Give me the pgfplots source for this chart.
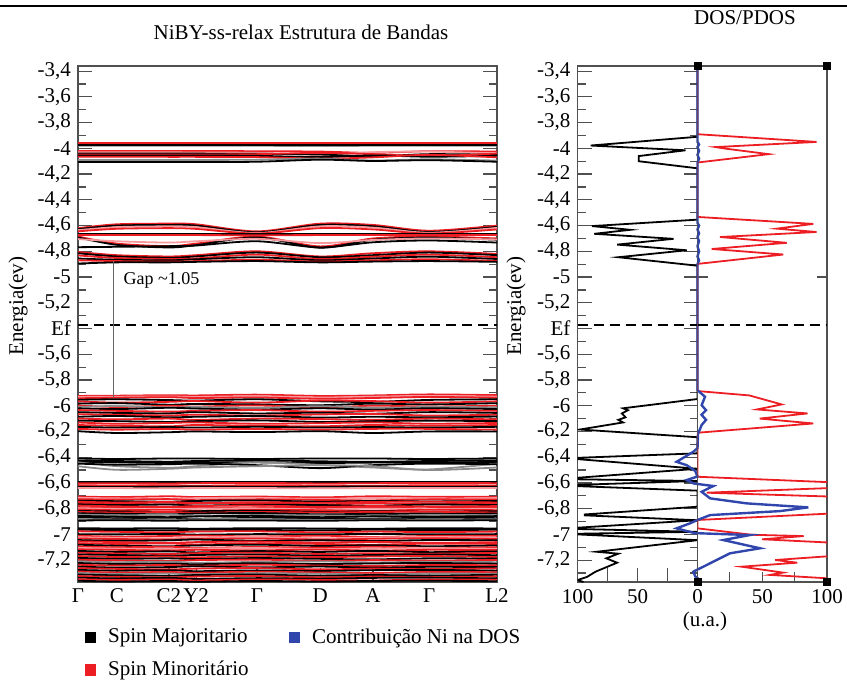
\documentclass[border=0pt]{standalone}
\usepackage{fontspec}
\setmainfont{Liberation Serif}
\usepackage{pgfplots}
\pgfplotsset{compat=1.18}
\definecolor{dred}{RGB}{236,30,36}
\definecolor{dblue}{RGB}{48,70,172}
\definecolor{frm}{RGB}{80,80,80}
\pgfplotsset{
  bandsty/.style={smooth, tension=0.5, line width=0.9pt},
  panel/.style={
    scale only axis, anchor=south west, height=258pt, ymin=-7.37, ymax=-3.36,
    axis line style={frm, line width=0.7pt},
    every tick/.style={frm, line width=0.6pt},
    major tick length=7pt, minor tick length=4pt,
    tick label style={font=\fontsize{10.5}{12}\selectfont},
  },
  ylist/.style={
    ytick={-7.2,-7,-6.8,-6.6,-6.4,-6.2,-6,-5.8,-5.6,-5.4,-5.2,-5,-4.8,-4.6,-4.4,-4.2,-4,-3.8,-3.6,-3.4},
    yticklabels={{-7,2},{-7},{-6,8},{-6,6},{-6,4},{-6,2},{-6},{-5,8},{-5,6},{Ef},{-5,2},{-5},{-4,8},{-4,6},{-4,4},{-4,2},{-4},{-3,8},{-3,6},{-3,4}},
    minor ytick={-7.3,-7.1,-6.9,-6.7,-6.5,-6.3,-6.1,-5.9,-5.7,-5.5,-5.3,-5.1,-4.9,-4.7,-4.5,-4.3,-4.1,-3.9,-3.7,-3.5},
  },
}
\newcommand\BK[9]{\addplot[bandsty, black] coordinates {(0,#1)(0.093,#2)(0.217,#3)(0.282,#4)(0.427,#5)(0.578,#6)(0.704,#7)(0.838,#8)(1,#9)};}
\newcommand\BR[9]{\addplot[bandsty, dred] coordinates {(0,#1)(0.093,#2)(0.217,#3)(0.282,#4)(0.427,#5)(0.578,#6)(0.704,#7)(0.838,#8)(1,#9)};}
\newcommand\BG[9]{\addplot[bandsty, black!45] coordinates {(0,#1)(0.093,#2)(0.217,#3)(0.282,#4)(0.427,#5)(0.578,#6)(0.704,#7)(0.838,#8)(1,#9)};}
\newcommand\BP[9]{\addplot[bandsty, dred!45] coordinates {(0,#1)(0.093,#2)(0.217,#3)(0.282,#4)(0.427,#5)(0.578,#6)(0.704,#7)(0.838,#8)(1,#9)};}

\pgfplotstableread{
x y
0 -3.36
0 -3.95
1.2 -3.97
0 -3.99
1.2 -4.02
0 -4.05
1.2 -4.08
0 -4.11
0 -4.58
1.2 -4.60
0 -4.63
1.2 -4.66
0 -4.69
1.2 -4.72
0 -4.76
1.2 -4.80
0 -4.84
1.2 -4.87
0 -4.90
0 -5.88
5.8 -5.93
3.2 -5.996
6.6 -6.035
3.1 -6.07
6.6 -6.11
3.2 -6.15
0.4 -6.22
0 -6.33
-3.5 -6.358
-17.4 -6.436
-9 -6.462
-2 -6.506
0 -6.55
-9 -6.578
-3.3 -6.604
12.2 -6.624
3.2 -6.669
9.7 -6.72
38 -6.759
85.6 -6.79
63.7 -6.819
9.7 -6.85
0 -6.888
-6.25 -6.914
-17.4 -6.953
-2.5 -6.99
17.4 -6.997
40.5 -7.005
19.9 -7.044
48.3 -7.108
25.1 -7.147
12.2 -7.212
4.5 -7.251
-3.5 -7.29
-1.7 -7.329
2.3 -7.355
3 -7.37
}\bluedos

\pgfplotstableread{
x y
0 -3.36
0 -3.91
-89 -3.978
-10 -4.015
-49 -4.06
-49 -4.10
0 -4.155
0 -4.554
-88 -4.604
-56 -4.633
-86 -4.664
-20 -4.703
-67 -4.748
-9 -4.792
-66 -4.846
0 -4.912
0 -5.948
-62 -6.02
-58 -6.035
-63 -6.06
-60 -6.09
-66 -6.11
-62 -6.13
-98 -6.185
0 -6.245
0 -6.37
-100 -6.405
-100 -6.415
0 -6.49
-100 -6.56
-100 -6.572
0 -6.585
-100 -6.615
-100 -6.625
0 -6.66
0 -6.785
-94 -6.845
-94 -6.852
0 -6.89
-100 -6.948
-100 -6.958
0 -6.98
-100 -6.995
-100 -7.0
0 -7.045
-84 -7.135
-66 -7.15
-76 -7.186
-67 -7.22
-85 -7.29
-92 -7.33
-100 -7.355
-95 -7.37
}\blackdos

\pgfplotstableread{
x y
0 -3.36
0 -3.89
92 -3.95
14 -3.99
20 -4.0
55 -4.045
0 -4.11
0 -4.533
89.4 -4.587
61.2 -4.624
92 -4.65
17.4 -4.689
68.9 -4.734
11 -4.782
66.3 -4.825
0 -4.898
0 -5.886
40 -5.92
65 -5.99
46 -6.029
85 -6.06
48 -6.10
89.4 -6.138
0 -6.21
0 -6.552
115 -6.60
115 -6.635
7 -6.676
115 -6.71
115 -6.832
0 -6.888
0 -6.953
42 -7.003
82 -7.013
50 -7.038
115 -7.07
115 -7.16
60 -7.199
77 -7.22
34 -7.251
66 -7.297
56 -7.315
115 -7.35
}\reddos

\begin{document}
\begin{tikzpicture}
\useasboundingbox (0,0) rectangle (423.5pt,-340pt);
\draw[line width=1pt] (0,-3pt) -- (423.5pt,-3pt);

% ---------------- band structure ----------------
\begin{axis}[panel, ylist, at={(39pt,-291pt)}, width=209.5pt, xmin=0, xmax=1,
  xtick={0,0.093,0.217,0.282,0.427,0.578,0.704,0.838,1},
  xticklabels={Γ,C,C2,Y2,Γ,D,A,Γ,L2},
  xtick pos=bottom,
  legend style={at={(0.015,-0.082)}, anchor=north west, draw=none, fill=none, inner sep=0pt,
    font=\fontsize{10.5}{12}\selectfont, legend cell align=left,
    /tikz/every even column/.append style={column sep=18pt}, row sep=3.5pt},
  legend columns=2,
  legend image code/.code={\fill[#1] (0pt,-2.6pt) rectangle (5.2pt,2.6pt); \path[draw=none, fill=none] (0pt,0pt) -- (9.5pt,0pt);},
]
\addlegendimage{black}\addlegendentry{Spin Majoritario}
\addlegendimage{dblue}\addlegendentry{Contribuição Ni na DOS}
\addlegendimage{dred}\addlegendentry{Spin Minoritário}
% cluster A
\BR{-3.958}{-3.958}{-3.958}{-3.958}{-3.958}{-3.958}{-3.958}{-3.958}{-3.958}
\BG{-3.980}{-3.980}{-3.980}{-3.980}{-3.980}{-3.982}{-3.980}{-3.980}{-3.980}
\BK{-3.975}{-3.975}{-3.975}{-3.975}{-3.975}{-3.975}{-3.975}{-3.975}{-3.975}
\BR{-4.020}{-4.020}{-4.020}{-4.021}{-4.022}{-4.025}{-4.035}{-4.022}{-4.025}
\BP{-4.030}{-4.030}{-4.031}{-4.032}{-4.035}{-4.050}{-4.030}{-4.025}{-4.040}
\BK{-4.040}{-4.040}{-4.040}{-4.041}{-4.042}{-4.048}{-4.062}{-4.045}{-4.050}
\BR{-4.048}{-4.048}{-4.048}{-4.048}{-4.045}{-4.035}{-4.045}{-4.060}{-4.040}
\BK{-4.055}{-4.055}{-4.055}{-4.055}{-4.058}{-4.068}{-4.055}{-4.065}{-4.058}
\BR{-4.065}{-4.065}{-4.066}{-4.066}{-4.068}{-4.080}{-4.070}{-4.050}{-4.070}
\BG{-4.090}{-4.090}{-4.090}{-4.090}{-4.088}{-4.080}{-4.095}{-4.085}{-4.095}
\BK{-4.106}{-4.106}{-4.106}{-4.106}{-4.104}{-4.088}{-4.098}{-4.092}{-4.104}
% cluster B
\BR{-4.620}{-4.590}{-4.585}{-4.590}{-4.645}{-4.585}{-4.595}{-4.640}{-4.600}
\BK{-4.628}{-4.600}{-4.595}{-4.600}{-4.652}{-4.595}{-4.605}{-4.650}{-4.610}
\BP{-4.636}{-4.612}{-4.606}{-4.612}{-4.658}{-4.606}{-4.616}{-4.656}{-4.618}
\BR{-4.645}{-4.625}{-4.620}{-4.626}{-4.662}{-4.620}{-4.630}{-4.662}{-4.630}
\BK{-4.666}{-4.666}{-4.666}{-4.666}{-4.666}{-4.666}{-4.666}{-4.666}{-4.666}
\BR{-4.674}{-4.674}{-4.674}{-4.674}{-4.675}{-4.674}{-4.674}{-4.674}{-4.674}
\BR{-4.685}{-4.740}{-4.760}{-4.740}{-4.685}{-4.762}{-4.700}{-4.685}{-4.700}
\BK{-4.692}{-4.750}{-4.770}{-4.752}{-4.692}{-4.772}{-4.710}{-4.693}{-4.710}
\BP{-4.705}{-4.722}{-4.732}{-4.722}{-4.703}{-4.736}{-4.712}{-4.700}{-4.708}
\BK{-4.768}{-4.765}{-4.760}{-4.755}{-4.722}{-4.770}{-4.730}{-4.716}{-4.732}
\BR{-4.805}{-4.830}{-4.840}{-4.830}{-4.800}{-4.840}{-4.815}{-4.800}{-4.820}
\BK{-4.815}{-4.840}{-4.850}{-4.840}{-4.810}{-4.846}{-4.830}{-4.810}{-4.830}
\BR{-4.832}{-4.852}{-4.860}{-4.855}{-4.826}{-4.860}{-4.842}{-4.826}{-4.846}
\BK{-4.856}{-4.866}{-4.870}{-4.862}{-4.846}{-4.870}{-4.856}{-4.842}{-4.860}
\BR{-4.870}{-4.876}{-4.880}{-4.876}{-4.866}{-4.880}{-4.870}{-4.862}{-4.875}
\BK{-4.895}{-4.886}{-4.886}{-4.882}{-4.876}{-4.886}{-4.880}{-4.876}{-4.882}
% cluster C
\BR{-5.924}{-5.922}{-5.918}{-5.920}{-5.914}{-5.924}{-5.920}{-5.912}{-5.918}
\BP{-5.932}{-5.930}{-5.928}{-5.932}{-5.926}{-5.936}{-5.930}{-5.924}{-5.930}
\BR{-5.942}{-5.938}{-5.934}{-5.940}{-5.936}{-5.946}{-5.940}{-5.932}{-5.938}
\BK{-5.954}{-5.950}{-5.956}{-5.960}{-5.950}{-5.966}{-5.970}{-5.955}{-5.950}
\BR{-5.966}{-5.976}{-5.970}{-5.964}{-5.976}{-5.960}{-5.964}{-5.976}{-5.966}
\BK{-5.984}{-5.980}{-5.992}{-5.986}{-5.990}{-5.996}{-5.984}{-5.990}{-5.980}
\BR{-5.998}{-6.010}{-6.000}{-6.006}{-5.998}{-6.014}{-6.000}{-6.006}{-6.000}
\BG{-6.010}{-6.002}{-6.014}{-6.010}{-6.016}{-6.004}{-6.016}{-6.010}{-6.012}
\BK{-6.020}{-6.026}{-6.016}{-6.022}{-6.030}{-6.020}{-6.030}{-6.020}{-6.026}
\BR{-6.034}{-6.040}{-6.046}{-6.040}{-6.034}{-6.046}{-6.040}{-6.034}{-6.040}
\BK{-6.050}{-6.056}{-6.060}{-6.050}{-6.060}{-6.054}{-6.062}{-6.050}{-6.056}
\BR{-6.066}{-6.070}{-6.076}{-6.070}{-6.076}{-6.068}{-6.064}{-6.076}{-6.070}
\BK{-6.086}{-6.080}{-6.090}{-6.086}{-6.080}{-6.092}{-6.086}{-6.090}{-6.084}
\BR{-6.100}{-6.106}{-6.100}{-6.110}{-6.100}{-6.104}{-6.110}{-6.100}{-6.106}
\BK{-6.116}{-6.120}{-6.126}{-6.120}{-6.114}{-6.126}{-6.120}{-6.116}{-6.120}
\BR{-6.130}{-6.140}{-6.134}{-6.130}{-6.140}{-6.136}{-6.130}{-6.140}{-6.134}
\BR{-6.150}{-6.156}{-6.160}{-6.150}{-6.156}{-6.160}{-6.150}{-6.156}{-6.150}
\BK{-6.164}{-6.170}{-6.166}{-6.170}{-6.164}{-6.170}{-6.166}{-6.170}{-6.164}
\BR{-6.180}{-6.186}{-6.180}{-6.186}{-6.180}{-6.186}{-6.180}{-6.180}{-6.186}
\BK{-6.198}{-6.212}{-6.206}{-6.200}{-6.205}{-6.198}{-6.212}{-6.200}{-6.200}
% cluster D
\BK{-6.410}{-6.414}{-6.410}{-6.410}{-6.414}{-6.410}{-6.410}{-6.414}{-6.410}
\BK{-6.425}{-6.430}{-6.435}{-6.430}{-6.425}{-6.432}{-6.436}{-6.430}{-6.425}
\BK{-6.436}{-6.440}{-6.445}{-6.442}{-6.440}{-6.445}{-6.442}{-6.440}{-6.438}
\BG{-6.440}{-6.470}{-6.482}{-6.470}{-6.440}{-6.460}{-6.480}{-6.495}{-6.450}
\BK{-6.450}{-6.458}{-6.455}{-6.450}{-6.462}{-6.485}{-6.462}{-6.450}{-6.455}
\BG{-6.470}{-6.498}{-6.490}{-6.480}{-6.470}{-6.462}{-6.470}{-6.500}{-6.480}
% cluster E
\BK{-6.592}{-6.592}{-6.592}{-6.592}{-6.592}{-6.592}{-6.592}{-6.592}{-6.592}
\BR{-6.602}{-6.602}{-6.604}{-6.602}{-6.600}{-6.604}{-6.602}{-6.600}{-6.602}
\BR{-6.618}{-6.620}{-6.618}{-6.622}{-6.618}{-6.620}{-6.622}{-6.618}{-6.620}
\BK{-6.630}{-6.632}{-6.630}{-6.628}{-6.632}{-6.630}{-6.628}{-6.632}{-6.630}
\BP{-6.640}{-6.640}{-6.642}{-6.640}{-6.640}{-6.642}{-6.640}{-6.640}{-6.640}
% cluster F
\BR{-6.706}{-6.710}{-6.704}{-6.710}{-6.706}{-6.712}{-6.704}{-6.708}{-6.708}
\BP{-6.716}{-6.720}{-6.724}{-6.718}{-6.716}{-6.724}{-6.718}{-6.722}{-6.718}
\BR{-6.726}{-6.730}{-6.726}{-6.734}{-6.728}{-6.732}{-6.736}{-6.728}{-6.730}
\BK{-6.738}{-6.742}{-6.746}{-6.740}{-6.736}{-6.746}{-6.740}{-6.744}{-6.740}
\BR{-6.746}{-6.752}{-6.748}{-6.756}{-6.750}{-6.754}{-6.748}{-6.746}{-6.752}
\BR{-6.756}{-6.762}{-6.766}{-6.760}{-6.756}{-6.766}{-6.760}{-6.764}{-6.758}
\BK{-6.766}{-6.772}{-6.768}{-6.776}{-6.770}{-6.772}{-6.778}{-6.768}{-6.772}
\BR{-6.776}{-6.782}{-6.786}{-6.780}{-6.776}{-6.786}{-6.780}{-6.784}{-6.780}
\BR{-6.788}{-6.792}{-6.788}{-6.796}{-6.790}{-6.794}{-6.788}{-6.786}{-6.792}
\BP{-6.796}{-6.802}{-6.806}{-6.800}{-6.798}{-6.806}{-6.800}{-6.804}{-6.800}
\BR{-6.806}{-6.812}{-6.808}{-6.816}{-6.810}{-6.812}{-6.818}{-6.808}{-6.812}
\BK{-6.818}{-6.822}{-6.826}{-6.820}{-6.816}{-6.826}{-6.820}{-6.824}{-6.820}
\BR{-6.824}{-6.830}{-6.826}{-6.832}{-6.826}{-6.830}{-6.826}{-6.824}{-6.830}
\BK{-6.836}{-6.840}{-6.844}{-6.838}{-6.834}{-6.844}{-6.840}{-6.842}{-6.838}
\BG{-6.846}{-6.852}{-6.848}{-6.856}{-6.850}{-6.852}{-6.856}{-6.848}{-6.852}
\BK{-6.856}{-6.862}{-6.866}{-6.860}{-6.856}{-6.866}{-6.860}{-6.862}{-6.858}
\BK{-6.870}{-6.874}{-6.870}{-6.878}{-6.872}{-6.874}{-6.878}{-6.870}{-6.874}
\BG{-6.880}{-6.884}{-6.888}{-6.882}{-6.880}{-6.888}{-6.884}{-6.886}{-6.882}
\BK{-6.892}{-6.890}{-6.894}{-6.890}{-6.892}{-6.894}{-6.890}{-6.892}{-6.890}
% cluster G
\BK{-6.952}{-6.954}{-6.952}{-6.956}{-6.952}{-6.954}{-6.956}{-6.952}{-6.954}
\BK{-6.964}{-6.966}{-6.968}{-6.964}{-6.966}{-6.968}{-6.964}{-6.966}{-6.964}
\BR{-6.976}{-6.980}{-6.984}{-6.978}{-6.976}{-6.984}{-6.978}{-6.982}{-6.978}
% cluster H
\BK{-6.998}{-7.000}{-6.996}{-7.002}{-6.998}{-7.000}{-6.996}{-7.000}{-6.998}
\BR{-7.010}{-7.018}{-7.012}{-7.008}{-7.016}{-7.010}{-7.020}{-7.012}{-7.010}
\BP{-7.022}{-7.026}{-7.030}{-7.024}{-7.020}{-7.030}{-7.024}{-7.020}{-7.026}
\BR{-7.032}{-7.036}{-7.040}{-7.036}{-7.032}{-7.040}{-7.034}{-7.030}{-7.036}
\BK{-7.044}{-7.050}{-7.046}{-7.040}{-7.050}{-7.046}{-7.052}{-7.044}{-7.046}
\BR{-7.054}{-7.060}{-7.066}{-7.060}{-7.056}{-7.064}{-7.058}{-7.066}{-7.060}
\BR{-7.068}{-7.074}{-7.070}{-7.078}{-7.070}{-7.074}{-7.080}{-7.072}{-7.074}
\BK{-7.080}{-7.088}{-7.092}{-7.086}{-7.080}{-7.090}{-7.084}{-7.092}{-7.086}
\BR{-7.094}{-7.100}{-7.096}{-7.104}{-7.098}{-7.102}{-7.096}{-7.104}{-7.100}
\BP{-7.106}{-7.110}{-7.114}{-7.110}{-7.106}{-7.114}{-7.110}{-7.106}{-7.112}
\BR{-7.116}{-7.120}{-7.126}{-7.120}{-7.124}{-7.118}{-7.126}{-7.120}{-7.122}
\BK{-7.128}{-7.136}{-7.132}{-7.140}{-7.130}{-7.136}{-7.128}{-7.138}{-7.132}
\BR{-7.142}{-7.148}{-7.152}{-7.146}{-7.142}{-7.152}{-7.146}{-7.150}{-7.144}
\BK{-7.156}{-7.160}{-7.166}{-7.160}{-7.156}{-7.166}{-7.160}{-7.156}{-7.162}
\BR{-7.168}{-7.176}{-7.172}{-7.178}{-7.170}{-7.176}{-7.172}{-7.168}{-7.176}
\BK{-7.182}{-7.190}{-7.186}{-7.192}{-7.184}{-7.190}{-7.194}{-7.186}{-7.188}
\BR{-7.196}{-7.202}{-7.206}{-7.200}{-7.196}{-7.206}{-7.200}{-7.204}{-7.198}
\BG{-7.210}{-7.216}{-7.212}{-7.220}{-7.214}{-7.210}{-7.218}{-7.212}{-7.216}
\BK{-7.222}{-7.230}{-7.226}{-7.232}{-7.224}{-7.230}{-7.226}{-7.222}{-7.228}
\BR{-7.236}{-7.242}{-7.238}{-7.244}{-7.236}{-7.242}{-7.246}{-7.238}{-7.240}
\BK{-7.250}{-7.258}{-7.254}{-7.248}{-7.256}{-7.250}{-7.258}{-7.252}{-7.254}
\BR{-7.262}{-7.268}{-7.272}{-7.266}{-7.262}{-7.272}{-7.266}{-7.270}{-7.264}
\BK{-7.276}{-7.282}{-7.278}{-7.286}{-7.280}{-7.284}{-7.278}{-7.276}{-7.282}
\BR{-7.288}{-7.296}{-7.292}{-7.298}{-7.290}{-7.296}{-7.300}{-7.292}{-7.294}
\BG{-7.300}{-7.308}{-7.304}{-7.310}{-7.302}{-7.306}{-7.312}{-7.304}{-7.306}
\BK{-7.312}{-7.318}{-7.322}{-7.316}{-7.312}{-7.322}{-7.316}{-7.320}{-7.314}
\BR{-7.324}{-7.330}{-7.334}{-7.328}{-7.324}{-7.334}{-7.328}{-7.332}{-7.326}
\BK{-7.336}{-7.342}{-7.338}{-7.346}{-7.340}{-7.344}{-7.338}{-7.336}{-7.342}
\BR{-7.348}{-7.354}{-7.350}{-7.358}{-7.350}{-7.354}{-7.358}{-7.350}{-7.352}
\BK{-7.360}{-7.366}{-7.362}{-7.368}{-7.362}{-7.366}{-7.362}{-7.360}{-7.364}
% Fermi level and gap
\addplot[black, line width=0.9pt, dash pattern=on 5pt off 3pt] coordinates {(0,-5.37)(1,-5.37)};
\addplot[black!60, line width=0.5pt] coordinates {(0.084,-4.876)(0.084,-5.93)};
\node[anchor=west, font=\fontsize{9}{10}\selectfont] at (axis cs:0.092,-5.025) {Gap \textasciitilde1.05};
\end{axis}

% ---------------- DOS left half (spin up) ----------------
\begin{axis}[panel, ylist, at={(288.75pt,-291pt)}, width=60pt, xmin=-100, xmax=0,
  xtick={-100,-75,-50,-25,0}, xticklabels={100,,50,,0}, xtick pos=bottom]
\addplot[black, line width=0.9pt] table {\blackdos};
\addplot[dblue, line width=1.2pt] table {\bluedos};
\addplot[black, line width=0.9pt, dash pattern=on 5pt off 3pt] coordinates {(-100,-5.37)(0,-5.37)};
\end{axis}

% ---------------- DOS right half (spin down) ----------------
\begin{axis}[panel, at={(348.75pt,-291pt)}, width=64.75pt, xmin=0, xmax=100,
  xtick={0,25,50,75,100}, xticklabels={,,50,,100}, xtick pos=bottom,
  ytick={-5}, yticklabels={}, minor ytick={}, major tick length=5pt]
\addplot[dred, line width=0.9pt] table {\reddos};
\addplot[dblue, line width=1.2pt] table {\bluedos};
\addplot[black, line width=0.9pt, dash pattern=on 5pt off 3pt] coordinates {(0,-5.37)(100,-5.37)};
\addplot[only marks, mark=square*, mark size=1.8pt, black] coordinates {(0,-3.36)(100,-3.36)(0,-7.37)(100,-7.37)};
\end{axis}

\node[font=\fontsize{10.5}{12}\selectfont] at (150.5pt,-16pt) {NiBY-ss-relax Estrutura de Bandas};
\node[font=\fontsize{10.5}{12}\selectfont] at (372.5pt,-9pt) {DOS/PDOS};
\node[rotate=90, font=\fontsize{10.5}{12}\selectfont] at (9pt,-153pt) {Energia(ev)};
\node[rotate=90, font=\fontsize{10.5}{12}\selectfont] at (258pt,-153pt) {Energia(ev)};
\node[font=\fontsize{10.5}{12}\selectfont] at (352.5pt,-310.5pt) {(u.a.)};
\end{tikzpicture}
\end{document}
